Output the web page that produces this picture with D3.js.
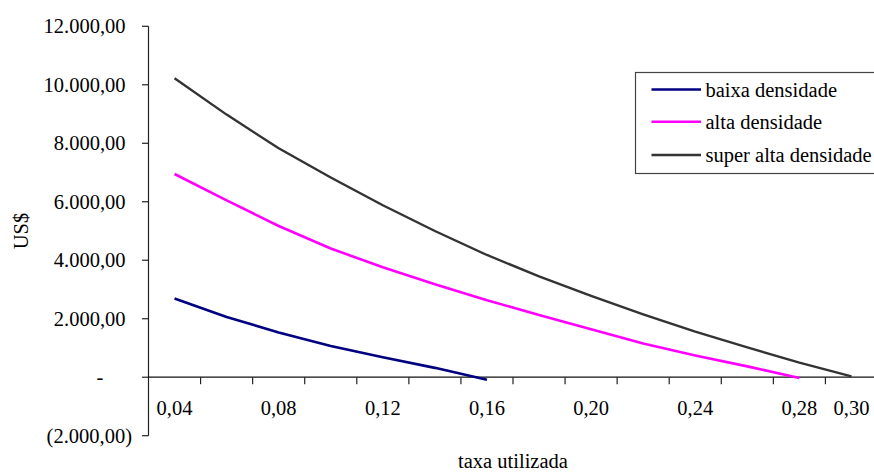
<!DOCTYPE html>
<html>
<head>
<meta charset="utf-8">
<script src="https://cdn.jsdelivr.net/npm/d3@7/dist/d3.min.js"></script>
</head>
<body style="margin:0;background:#fff">
<svg id="chart" width="874" height="473" style="display:block"></svg>
<script>
// ---- data ----
const categories = ["0,04","0,06","0,08","0,10","0,12","0,14","0,16","0,18","0,20","0,22","0,24","0,26","0,28","0,30"];
const shownLabels = ["0,04","0,08","0,12","0,16","0,20","0,24","0,28","0,30"];
const baixa = [2690, 2060, 1530, 1070, 680, 320, -90];
const alta = [6950, 6050, 5170, 4400, 3760, 3180, 2630, 2130, 1640, 1150, 740, 370, -30];
const superAlta = [10220, 8980, 7830, 6830, 5880, 5000, 4180, 3450, 2780, 2150, 1560, 1020, 500, 30];
const yTicks = [-2000, 0, 2000, 4000, 6000, 8000, 10000, 12000];
const seriesNames = ["baixa densidade", "alta densidade", "super alta densidade"];
const seriesColors = ["#000080", "#ff00ff", "#333333"];
const seriesWidths = [2.6, 2.6, 2.4];

const series = [baixa, alta, superAlta].map((vals, i) => ({
  name: seriesNames[i], color: seriesColors[i], width: seriesWidths[i],
  values: vals.map((v, j) => ({cat: categories[j], v}))
}));

const svg = d3.select("#chart");
const x = d3.scaleBand().domain(categories).range([148.5, 877.5]).padding(0);
const y = d3.scaleLinear().domain([-2000, 12000]).range([435.7, 26.3]);

const loc = d3.formatLocale({decimal: ",", thousands: ".", grouping: [3], currency: ["", ""]});
const f = loc.format(",.2f");

function txt(g) {
  return g.append("text").style("font-family", "Liberation Serif").style("font-size", "20.5px");
}

// y axis
const yAx = svg.append("g");
yAx.append("line").attr("x1", 148.5).attr("x2", 148.5).attr("y1", y(12000)).attr("y2", y(-2000))
  .attr("stroke", "#222").attr("stroke-width", 1.2);
yTicks.forEach(t => {
  yAx.append("line").attr("x1", 142).attr("x2", 148.5).attr("y1", y(t)).attr("y2", y(t))
    .attr("stroke", "#222").attr("stroke-width", 1.2);
  let label, xp, anchor;
  if (t === 0) { label = "-"; xp = 100; anchor = "middle"; }
  else if (t < 0) { label = "(" + f(-t) + ")"; xp = 132; anchor = "end"; }
  else { label = f(t); xp = 125.5; anchor = "end"; }
  txt(yAx).attr("x", xp).attr("y", y(t) + 7)
    .attr("text-anchor", anchor).text(label);
});

// x axis
const xAx = svg.append("g");
xAx.append("line").attr("x1", 148.5).attr("x2", 874).attr("y1", y(0)).attr("y2", y(0))
  .attr("stroke", "#111").attr("stroke-width", 1.2);
categories.forEach((c, i) => {
  const xb = x(c);
  if (i > 0) xAx.append("line").attr("x1", xb).attr("x2", xb).attr("y1", y(0)).attr("y2", y(0) + 7)
    .attr("stroke", "#222").attr("stroke-width", 1.2);
  if (shownLabels.includes(c)) {
    txt(xAx).attr("x", xb + x.bandwidth() / 2).attr("y", 415)
      .attr("text-anchor", "middle").text(c);
  }
});

// axis titles
txt(svg).attr("x", 513).attr("y", 468).attr("text-anchor", "middle").text("taxa utilizada");
txt(svg).attr("transform", "translate(28,231) rotate(-90)").attr("text-anchor", "middle").text("US$");

// lines
const line = d3.line().x(d => x(d.cat) + x.bandwidth() / 2).y(d => y(d.v));
series.forEach(s => {
  svg.append("path").attr("d", line(s.values)).attr("fill", "none")
    .attr("stroke", s.color).attr("stroke-width", s.width).attr("stroke-linejoin", "round");
});

// legend
const lg = svg.append("g");
lg.append("rect").attr("x", 635.5).attr("y", 72.5).attr("width", 260).attr("height", 101)
  .attr("fill", "#fff").attr("stroke", "#444").attr("stroke-width", 1.2);
const rowY = [89.5, 121.7, 155];
series.forEach((s, i) => {
  lg.append("line").attr("x1", 651.5).attr("x2", 701).attr("y1", rowY[i]).attr("y2", rowY[i])
    .attr("stroke", s.color).attr("stroke-width", s.width);
  txt(lg).attr("x", 705.5).attr("y", rowY[i] + 7).text(s.name);
});
</script>
</body>
</html>
